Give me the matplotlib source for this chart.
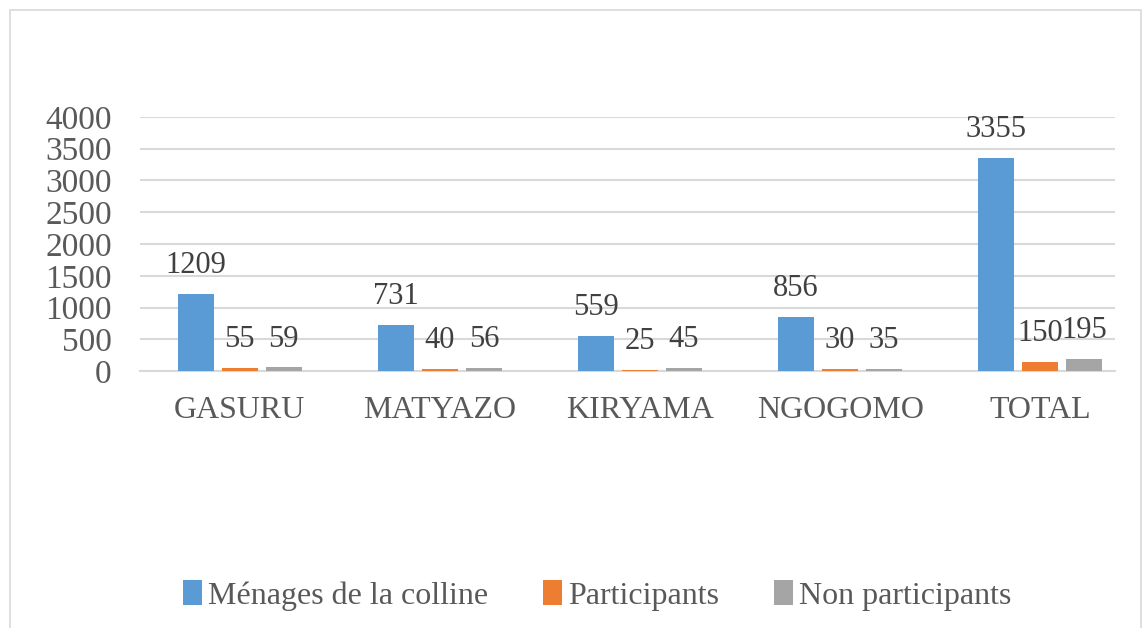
import numpy as np
import matplotlib.pyplot as plt
from matplotlib.patches import Rectangle

categories = ["GASURU", "MATYAZO", "KIRYAMA", "NGOGOMO", "TOTAL"]
menages = [1209, 731, 559, 856, 3355]
participants = [55, 40, 25, 30, 150]
non_participants = [59, 56, 45, 35, 195]
series_names = ["Ménages de la colline", "Participants", "Non participants"]
colors = ["#5B9BD5", "#ED7D31", "#A5A5A5"]

plt.rcParams["font.family"] = ["Liberation Serif", "DejaVu Serif"]

fig = plt.figure(figsize=(11.44, 6.28), dpi=100)
ax = fig.add_axes([0.122, 0.409, 0.853, 0.405])

x = np.arange(len(categories))
width = 0.18
step = 0.22
for i, (vals, name, c) in enumerate(zip([menages, participants, non_participants], series_names, colors)):
    bars = ax.bar(x + (i - 1) * step, vals, width, color=c, label=name, zorder=3)
    for b, v in zip(bars, vals):
        ax.annotate(str(v), (b.get_x() + b.get_width() / 2, v), xytext=(0, 10),
                    textcoords="offset points", ha="center", va="bottom",
                    fontsize=22, color="#404040")

ax.set_xlim(-0.5, len(categories) - 0.625)
ax.set_ylim(0, 4000)
ax.set_yticks(np.arange(0, 4001, 500))
ax.set_xticks(x)
ax.set_xticklabels(categories)
ax.grid(axis="y", color="#D9D9D9", linewidth=1.5, zorder=0)
ax.tick_params(axis="both", length=0, colors="#595959")
ax.tick_params(axis="x", pad=18, labelsize=23)
ax.tick_params(axis="y", pad=20, labelsize=24)
for s in ["top", "right", "left"]:
    ax.spines[s].set_visible(False)
ax.spines["bottom"].set_color("#D9D9D9")
ax.spines["bottom"].set_linewidth(1.5)

fig.legend(loc="center", bbox_to_anchor=(0.522, 0.052), ncol=3, frameon=False,
           fontsize=23, labelcolor="#595959", handlelength=0.6, handleheight=0.8,
           handletextpad=0.2, columnspacing=1.7)

fig.patches.append(Rectangle((0.009, -0.1), 0.988, 1.084, transform=fig.transFigure,
                             fill=False, edgecolor="#D9D9D9", linewidth=1.2))

fig.savefig("out.png", dpi=100)
